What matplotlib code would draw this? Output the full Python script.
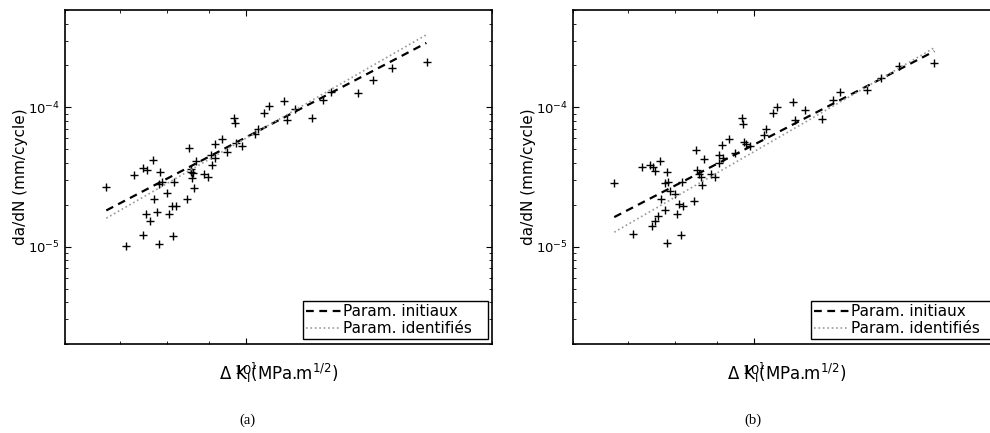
import matplotlib
matplotlib.use('Agg')
import matplotlib.pyplot as plt
from matplotlib.ticker import NullFormatter

# Points de mesure, essai (a)
dk_a = [6.74, 7.28, 7.48, 7.55, 7.68, 7.85, 7.81, 7.88, 8.15, 7.71,
        8.00, 8.12, 8.20, 8.46, 8.63, 8.50, 8.55, 8.57, 8.58, 8.61,
        8.67, 8.88, 8.98, 9.05, 9.09, 9.17, 9.15, 9.33, 9.47, 9.66,
        9.70, 9.71, 9.89, 10.24, 10.34, 10.52, 10.65, 11.12, 11.21, 11.48,
        12.05, 12.41, 12.70, 13.71, 14.30, 15.07, 16.67, 7.54, 7.77, 7.63,
        8.04, 7.48, 8.13, 7.13, 7.82]
dadn_a = [2.68e-5, 3.26e-5, 3.70e-5, 3.58e-5, 4.20e-5, 3.43e-5, 2.81e-5, 2.89e-5, 2.92e-5, 2.21e-5,
          2.41e-5, 1.96e-5, 1.95e-5, 2.20e-5, 2.63e-5, 5.07e-5, 3.60e-5, 3.46e-5, 3.12e-5, 3.37e-5,
          4.13e-5, 3.35e-5, 3.14e-5, 4.57e-5, 3.87e-5, 4.30e-5, 5.42e-5, 5.89e-5, 4.75e-5, 8.43e-5,
          7.67e-5, 5.51e-5, 5.30e-5, 6.39e-5, 7.03e-5, 9.11e-5, 1.03e-4, 1.105e-4, 8.12e-5, 9.79e-5,
          8.39e-5, 1.123e-4, 1.28e-4, 1.276e-4, 1.58e-4, 1.93e-4, 2.11e-4, 1.72e-5, 1.78e-5, 1.53e-5,
          1.71e-5, 1.21e-5, 1.19e-5, 1.01e-5, 1.04e-5]

# Points de mesure, essai (b)
dk_b = [6.74, 7.28, 7.46, 7.51, 7.57, 7.67, 7.83, 7.78, 7.85, 7.70,
        7.88, 7.99, 8.15, 8.09, 8.18, 8.43, 8.48, 8.52, 8.55, 8.60,
        8.62, 8.68, 8.86, 8.96, 9.05, 9.06, 9.14, 9.16, 9.31, 9.47,
        9.66, 9.70, 9.72, 9.77, 9.89, 10.27, 10.33, 10.56, 10.67, 11.15,
        11.23, 11.55, 12.11, 12.48, 12.73, 13.75, 14.30, 15.03, 16.62, 7.11,
        7.49, 7.55, 7.62, 7.78, 7.81, 8.04, 8.13]
dadn_b = [2.86e-5, 3.73e-5, 3.87e-5, 3.76e-5, 3.52e-5, 4.13e-5, 3.46e-5, 2.86e-5, 2.92e-5, 2.19e-5,
          2.49e-5, 2.39e-5, 2.92e-5, 2.04e-5, 1.97e-5, 2.11e-5, 4.96e-5, 3.56e-5, 3.35e-5, 3.16e-5,
          2.75e-5, 4.25e-5, 3.30e-5, 3.16e-5, 4.52e-5, 4.00e-5, 5.33e-5, 4.35e-5, 5.92e-5, 4.72e-5,
          8.43e-5, 7.63e-5, 5.60e-5, 5.48e-5, 5.24e-5, 6.29e-5, 6.99e-5, 9.11e-5, 1.00e-4, 1.099e-4,
          8.12e-5, 9.63e-5, 8.29e-5, 1.136e-4, 1.282e-4, 1.325e-4, 1.627e-4, 1.972e-4, 2.087e-4, 1.24e-5,
          1.40e-5, 1.52e-5, 1.67e-5, 1.83e-5, 1.07e-5, 1.72e-5, 1.21e-5]

# Droites de Paris (extremites)
dk_line = [6.74, 16.62]
init_a = [1.82e-5, 2.90e-4]
ident_a = [1.60e-5, 3.32e-4]
init_b = [1.63e-5, 2.53e-4]
ident_b = [1.27e-5, 2.68e-4]

labels = ['Param. initiaux', 'Param. identifiés']
captions = ['(a)', '(b)']


def draw_panel(ax, dk, dadn, init, ident):
    ax.plot(dk, dadn, '+', color='k', markersize=6, markeredgewidth=1)
    ax.plot(dk_line, init, color='k', linestyle=(0, (3.5, 2.5)), linewidth=1.6, label=labels[0])
    ax.plot(dk_line, ident, color='#999999', linestyle=':', linewidth=1.2, label=labels[1])
    ax.set_xscale('log')
    ax.set_yscale('log')
    ax.set_xlim(6, 20)
    ax.set_ylim(2e-6, 5e-4)
    ax.xaxis.set_minor_formatter(NullFormatter())
    ax.yaxis.set_minor_formatter(NullFormatter())
    ax.tick_params(which='both', direction='in', top=True, right=True, labelsize=9.5)
    ax.tick_params(which='major', length=4)
    ax.tick_params(which='minor', length=2)
    ax.tick_params(axis='x', pad=13)
    for s in ax.spines.values():
        s.set_linewidth(1.2)
    ax.set_ylabel('da/dN (mm/cycle)', fontsize=11, labelpad=0)
    ax.set_xlabel('Δ K$_\\mathregular{I}$(MPa.m$^{1/2}$)', fontsize=12)
    ax.xaxis.set_label_coords(0.5, -0.055)
    leg = ax.legend(loc='lower right', bbox_to_anchor=(0.557, 0.015, 0.434, 0.12),
                    mode='expand', fontsize=11, fancybox=False, edgecolor='k',
                    framealpha=1, handlelength=2.3, handletextpad=0.1, borderpad=0.2,
                    labelspacing=0.1, borderaxespad=0)
    leg.get_frame().set_linewidth(1.0)


fig = plt.figure(figsize=(9.9, 4.33), dpi=100)
ax_a = fig.add_axes([0.0657, 0.2055, 0.4313, 0.7714])
ax_b = fig.add_axes([0.5788, 0.2055, 0.4313, 0.7714])

draw_panel(ax_a, dk_a, dadn_a, init_a, ident_a)
draw_panel(ax_b, dk_b, dadn_b, init_b, ident_b)

fig.text(0.2495, 0.03, captions[0], ha='center', va='center',
         family='Liberation Serif', fontsize=10.5)
fig.text(0.7606, 0.03, captions[1], ha='center', va='center',
         family='Liberation Serif', fontsize=10.5)

fig.savefig('out.png', dpi=100)
